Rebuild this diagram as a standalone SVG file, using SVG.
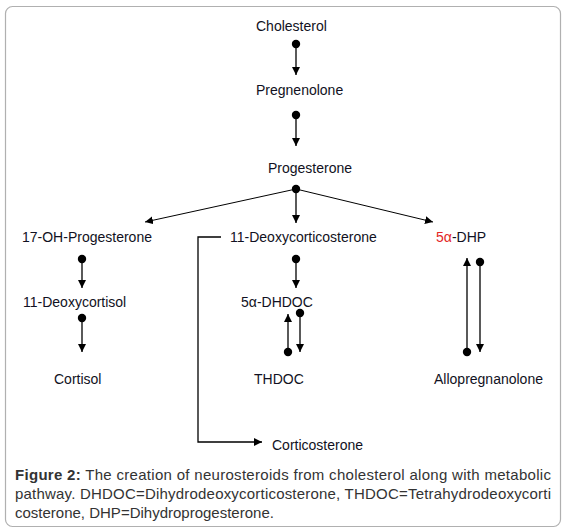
<svg xmlns="http://www.w3.org/2000/svg" width="566" height="532" viewBox="0 0 566 532">
<defs>
<marker id="ah" viewBox="0 0 10 10" refX="10" refY="5" markerWidth="8" markerHeight="8" markerUnits="userSpaceOnUse" orient="auto"><path d="M0,0 L10,5 L0,10 Z" fill="#000"/></marker>
<style>
.lbl{font-family:"Liberation Sans",Arial,sans-serif;font-size:14px;fill:#111122}
.cap{font-family:"Liberation Sans",Arial,sans-serif;font-size:15px;fill:#333}
.e{stroke:#000;stroke-width:1.3;fill:none}
.t{stroke-width:1}
.a{marker-end:url(#ah)}
.d{fill:#000}
</style>
</defs>
<rect x="5.5" y="6.5" width="555" height="520" rx="7" fill="#fff" stroke="#b0b0b0" stroke-width="1.2"/>
<g id="connectors">
<circle class="d" cx="296" cy="44" r="4.2"/><line class="e a" x1="296" y1="44" x2="296" y2="75"/>
<circle class="d" cx="296" cy="115" r="4.2"/><line class="e a" x1="296" y1="115" x2="296" y2="146"/>
<circle class="d" cx="296" cy="189" r="4.2"/>
<line class="e t a" x1="296" y1="189" x2="145" y2="222"/>
<line class="e a" x1="296" y1="189" x2="296" y2="223"/>
<line class="e t a" x1="296" y1="189" x2="433" y2="222"/>
<circle class="d" cx="82" cy="259" r="4.2"/><line class="e a" x1="82" y1="259" x2="82" y2="288"/>
<circle class="d" cx="82" cy="318" r="4.2"/><line class="e a" x1="82" y1="318" x2="82" y2="352"/>
<circle class="d" cx="296" cy="259" r="4.2"/><line class="e a" x1="296" y1="259" x2="296" y2="288"/>
<circle class="d" cx="288" cy="352" r="4.2"/><line class="e a" x1="288" y1="352" x2="288" y2="314"/>
<circle class="d" cx="300" cy="313" r="4.2"/><line class="e a" x1="300" y1="313" x2="300" y2="352"/>
<circle class="d" cx="467" cy="352" r="4.2"/><line class="e a" x1="467" y1="352" x2="467" y2="258"/>
<circle class="d" cx="480" cy="262" r="4.2"/><line class="e a" x1="480" y1="262" x2="480" y2="352"/>
<polyline class="e a" points="221,237 198,237 198,442 262,442"/>
</g>
<g id="cholesterol"><text class="lbl" x="256" y="31">Cholesterol</text></g>
<g id="pregnenolone"><text class="lbl" x="256" y="95">Pregnenolone</text></g>
<g id="progesterone"><text class="lbl" x="268" y="173">Progesterone</text></g>
<g id="ohprog"><text class="lbl" x="22" y="242">17-OH-Progesterone</text></g>
<g id="doc"><text class="lbl" x="230" y="242">11-Deoxycorticosterone</text></g>
<g id="dhp"><text class="lbl" x="436" y="242"><tspan fill="#e32626">5α</tspan>-DHP</text></g>
<g id="deoxycortisol"><text class="lbl" x="23" y="307">11-Deoxycortisol</text></g>
<g id="dhdoc"><text class="lbl" x="241" y="307">5α-DHDOC</text></g>
<g id="cortisol"><text class="lbl" x="54" y="384">Cortisol</text></g>
<g id="thdoc"><text class="lbl" x="254" y="384">THDOC</text></g>
<g id="allo"><text class="lbl" x="434" y="384">Allopregnanolone</text></g>
<g id="corticosterone"><text class="lbl" x="272" y="450">Corticosterone</text></g>
<g id="caption">
<text class="cap" x="15" y="480" textLength="536" lengthAdjust="spacing"><tspan font-weight="bold">Figure 2:</tspan> The creation of neurosteroids from cholesterol along with metabolic</text>
<text class="cap" x="15" y="499" textLength="536" lengthAdjust="spacing">pathway. DHDOC=Dihydrodeoxycorticosterone, THDOC=Tetrahydrodeoxycorti</text>
<text class="cap" x="15" y="518">costerone, DHP=Dihydroprogesterone.</text>
</g>
</svg>
